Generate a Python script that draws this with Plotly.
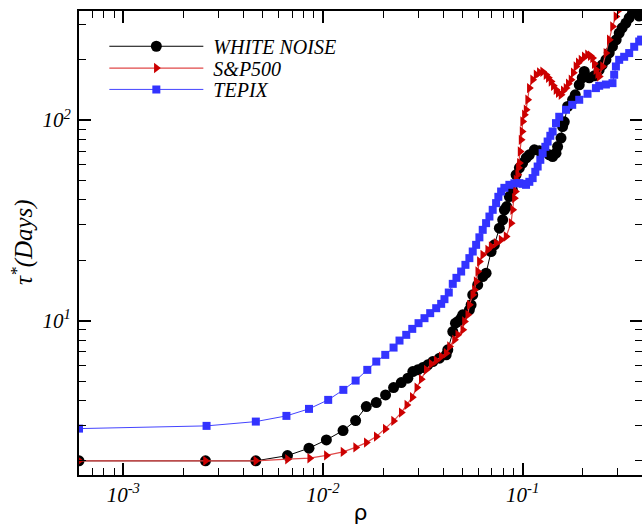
import math
import plotly.graph_objects as go

# ---------------- data ----------------
white_rho = [6.0e-4, 2.58e-3, 4.61e-3, 6.64e-3, 8.51e-3, 1.04e-2, 1.26e-2, 1.457e-2,
             1.648e-2, 1.849e-2, 2.058e-2, 2.257e-2, 2.466e-2, 2.661e-2, 2.818e-2,
             2.985e-2, 3.162e-2, 3.35e-2, 3.548e-2, 3.833e-2, 4.14e-2, 4.217e-2,
             4.467e-2, 4.608e-2, 4.732e-2, 4.92e-2, 5.012e-2, 5.41e-2, 5.52e-2,
             5.623e-2, 5.957e-2, 6.31e-2, 6.56e-2, 6.95e-2, 7.22e-2, 7.645e-2,
             7.943e-2, 8.1e-2, 8.318e-2, 8.58e-2, 8.88e-2, 9.27e-2, 9.63e-2, 0.1,
             0.1043, 0.108, 0.1144, 0.1212, 0.1284, 0.136, 0.1413, 0.1469, 0.1496,
             0.1556, 0.1585, 0.1616, 0.1679, 0.1778, 0.1834, 0.1920, 0.1988, 0.2035,
             0.2156, 0.2284, 0.2417, 0.2503, 0.2612, 0.2714, 0.2818, 0.2940, 0.3044,
             0.3151, 0.3289, 0.3416, 0.3548, 0.3703, 0.3833, 0.392]
white_tau = [2.0, 2.0, 2.0, 2.124, 2.313, 2.544, 2.83, 3.176,
             3.73, 3.905, 4.265, 4.638, 4.913, 5.168, 5.574,
             5.684, 5.837, 6.02, 6.252, 6.501, 6.752, 7.151,
             8.823, 9.716, 9.897, 10.29, 10.69, 11.32, 11.99,
             13.45, 15.09, 16.6, 17.26, 22.12, 23.88, 28.93,
             31.82, 35.7, 37.08, 41.59, 44.92, 53.37, 57.83, 61.03,
             64.86, 67.14, 71.1, 70.3, 69.5, 67.14, 65.84, 68.45, 73.85,
             81.33, 92.91, 98.06, 116.9, 126.3, 133.7, 150.0, 162.6, 174.8,
             162.6, 166.3, 178.2, 188.7, 199.8, 216.6, 232.9, 251.5, 271.6,
             288.6, 304.6, 323.8, 341.8, 351.0, 330.0, 335.0]

sp_rho = [6.0e-4, 2.58e-3, 4.61e-3, 6.64e-3, 8.58e-3, 1.04e-2, 1.26e-2, 1.457e-2,
          1.648e-2, 1.849e-2, 2.051e-2, 2.257e-2, 2.466e-2, 2.63e-2, 2.8e-2,
          2.951e-2, 3.105e-2, 3.289e-2, 3.483e-2, 3.69e-2, 3.908e-2, 4.14e-2,
          4.3e-2, 4.556e-2, 4.732e-2, 5.012e-2, 5.11e-2, 5.309e-2, 5.41e-2,
          5.623e-2, 5.734e-2, 5.848e-2, 5.957e-2, 6.073e-2, 6.31e-2, 6.683e-2,
          6.95e-2, 7.362e-2, 7.8e-2, 8.26e-2, 8.75e-2, 8.913e-2, 9.09e-2,
          9.194e-2, 9.27e-2, 9.441e-2, 9.517e-2, 9.63e-2, 9.705e-2, 9.817e-2,
          9.931e-2, 0.1, 0.102, 0.104, 0.1059, 0.108, 0.1122, 0.1167, 0.1212,
          0.1259, 0.1309, 0.1344, 0.1387, 0.1424, 0.1469, 0.1508, 0.1556,
          0.1597, 0.1648, 0.1692, 0.1746, 0.1792, 0.1849, 0.1899, 0.1959,
          0.2035, 0.2113, 0.2181, 0.2239, 0.2284, 0.2328, 0.2377, 0.2417,
          0.2512, 0.2612, 0.2714, 0.2818, 0.2931, 0.3044, 0.3151]
sp_tau = [2.0, 2.0, 2.0, 2.038, 2.062, 2.129, 2.216, 2.334,
          2.466, 2.642, 2.886, 3.164, 3.48, 3.802, 4.154,
          4.638, 5.109, 5.684, 6.088, 6.324, 6.62, 6.885,
          7.427, 8.022, 8.497, 8.999, 9.897, 10.69, 11.99,
          13.45, 14.24, 15.67, 17.58, 19.72, 21.29, 22.55,
          23.42, 24.35, 25.29, 26.27, 30.64, 35.7, 40.83,
          44.05, 50.37, 53.37, 57.83, 61.03, 69.73, 79.74,
          87.73, 98.4, 106.3, 112.6, 126.3, 144.4, 158.9, 168.3, 172.8,
          174.1, 168.3, 162.6, 155.8, 148.3, 141.6, 136.9, 133.7,
          140.0, 144.4, 151.7, 158.9, 172.2, 185.1, 193.1, 199.8,
          206.9, 211.7, 209.3, 203.8, 190.9, 178.2, 170.2, 165.0,
          185.1, 215.9, 251.5, 293.0, 328.7, 354.9, 375.9]

tepix_rho = [6.0e-4, 2.612e-3, 4.61e-3, 6.56e-3, 8.51e-3, 1.062e-2, 1.265e-2, 1.457e-2,
             1.667e-2, 1.849e-2, 2.051e-2, 2.257e-2, 2.417e-2, 2.612e-2, 2.8e-2,
             3.01e-2, 3.224e-2, 3.443e-2, 3.69e-2, 3.908e-2, 4.059e-2, 4.266e-2,
             4.467e-2, 4.66e-2, 4.92e-2, 5.169e-2, 5.41e-2, 5.623e-2, 5.848e-2,
             6.073e-2, 6.31e-2, 6.56e-2, 6.817e-2, 7.079e-2, 7.362e-2, 7.557e-2,
             7.8e-2, 8.1e-2, 8.58e-2, 9.09e-2, 9.63e-2, 0.1, 0.104, 0.108, 0.1122,
             0.1157, 0.1189, 0.1226, 0.1259, 0.1299, 0.1334, 0.1376, 0.1413,
             0.1469, 0.1525, 0.1648, 0.1771, 0.192, 0.2113, 0.2328, 0.2417,
             0.2612, 0.2818, 0.2873, 0.2931, 0.3044, 0.3224, 0.3416, 0.3619, 0.3833,
             0.392]
tepix_tau = [2.896, 2.988, 3.139, 3.351, 3.632, 4.027, 4.518, 5.026,
             5.684, 6.252, 6.752, 7.342, 7.958, 8.497, 9.101,
             9.716, 10.29, 10.9, 11.54, 12.13, 12.8, 13.81,
             15.26, 16.35, 17.58, 18.98, 20.5, 22.12, 23.88,
             26.03, 28.37, 30.64, 33.05, 35.7, 38.55, 41.45,
             44.05, 45.95, 47.57, 48.4, 48.5, 48.12, 47.57, 49.24, 51.38,
             55.23, 58.69, 63.39, 68.45, 73.59, 78.21, 83.51, 87.73,
             96.6, 103.9, 112.6, 119.2, 126.3, 135.3, 144.4, 148.3,
             150.5, 152.9, 168.3, 185.1, 199.8, 206.9, 215.9, 232.1, 246.6,
             252.0]

series_names = ["WHITE NOISE", "S&P500", "TEPIX"]

x_tickvals = [1e-3, 1e-2, 1e-1]
x_ticktext = ["10<sup>-3</sup>", "10<sup>-2</sup>", "10<sup>-1</sup>"]
y_tickvals = [10, 100]
y_ticktext = ["10<sup>1</sup>", "10<sup>2</sup>"]

x_range = [6.0e-4, 0.396]
y_range = [1.7, 350]

# ---------------- figure ----------------
SERIF = "Liberation Serif, Times New Roman, serif"
PAD = "\u00a0"

fig = go.Figure()
fig.add_trace(go.Scatter(
    x=white_rho, y=white_tau, mode="lines+markers", name=PAD + series_names[0],
    legend="legend",
    line=dict(color="black", width=1),
    marker=dict(symbol="circle", size=11, color="black")))
fig.add_trace(go.Scatter(
    x=sp_rho, y=sp_tau, mode="lines+markers", name=PAD + series_names[1],
    legend="legend2",
    line=dict(color="#e04848", width=1.2),
    marker=dict(symbol="triangle-right", size=9, color="#cc0000")))
fig.add_trace(go.Scatter(
    x=tepix_rho, y=tepix_tau, mode="lines+markers", name=PAD + series_names[2],
    legend="legend3",
    line=dict(color="#4444ff", width=1),
    marker=dict(symbol="square", size=8, color="#3333ff")))
# invisible trace so the mirrored (top / right) tick axes are drawn
fig.add_trace(go.Scatter(x=[None], y=[None], xaxis="x2", yaxis="y2",
                         showlegend=False, hoverinfo="skip"))

def axis_style(labels=True, line=True):
    return dict(
        type="log", showgrid=False, zeroline=False, automargin=False,
        showline=line, linecolor="black", linewidth=2,
        ticks="inside", ticklen=12, tickwidth=2, tickcolor="black",
        minor=dict(ticks="inside", ticklen=7, tickwidth=1, tickcolor="black",
                   dtick="D1", showgrid=False),
        showticklabels=labels,
        tickfont=dict(family=SERIF, size=21, color="black", style="italic"),
    )

xr = [math.log10(x_range[0]), math.log10(x_range[1])]
yr = [math.log10(y_range[0]), math.log10(y_range[1])]

def legend_box(ypos):
    return dict(
        x=0.045, y=ypos, xanchor="left", yanchor="middle",
        bgcolor="rgba(0,0,0,0)", borderwidth=0,
        font=dict(family=SERIF, size=20, color="black", style="italic"),
        itemwidth=94,
    )

fig.update_layout(
    xaxis=dict(
        **axis_style(True), range=xr,
        tickmode="array", tickvals=x_tickvals, ticktext=x_ticktext,
        title=dict(text="ρ", font=dict(family="DejaVu Sans", size=22, color="black"),
                   standoff=2),
    ),
    yaxis=dict(
        **axis_style(True), range=yr,
        tickmode="array", tickvals=y_tickvals, ticktext=y_ticktext,
        ticklabelstandoff=2,
    ),
    xaxis2=dict(**axis_style(False), range=xr, overlaying="x", side="top",
                anchor="y", tickmode="array", tickvals=x_tickvals),
    yaxis2=dict(**axis_style(False, line=False), range=yr, overlaying="y",
                side="right", anchor="x", tickmode="array", tickvals=y_tickvals),
    width=642, height=525,
    margin=dict(l=79, r=0, t=11, b=50),
    paper_bgcolor="white", plot_bgcolor="white",
    showlegend=True,
    legend=legend_box(0.924),
    legend2=legend_box(0.877),
    legend3=legend_box(0.831),
    annotations=[dict(
        text="τ<sup>*</sup>(Days)", xref="paper", yref="paper",
        x=0, y=0.502, xanchor="center", yanchor="middle", xshift=-57,
        textangle=-90, showarrow=False,
        font=dict(family=SERIF, size=25, color="black", style="italic"),
    )],
)

# remove the default 8px page margin so the figure fills the 642x525 window
fig.write_html(
    "out.html",
    config={"displayModeBar": False},
    post_script="document.body.style.margin='0';document.body.style.overflow='hidden';",
)
